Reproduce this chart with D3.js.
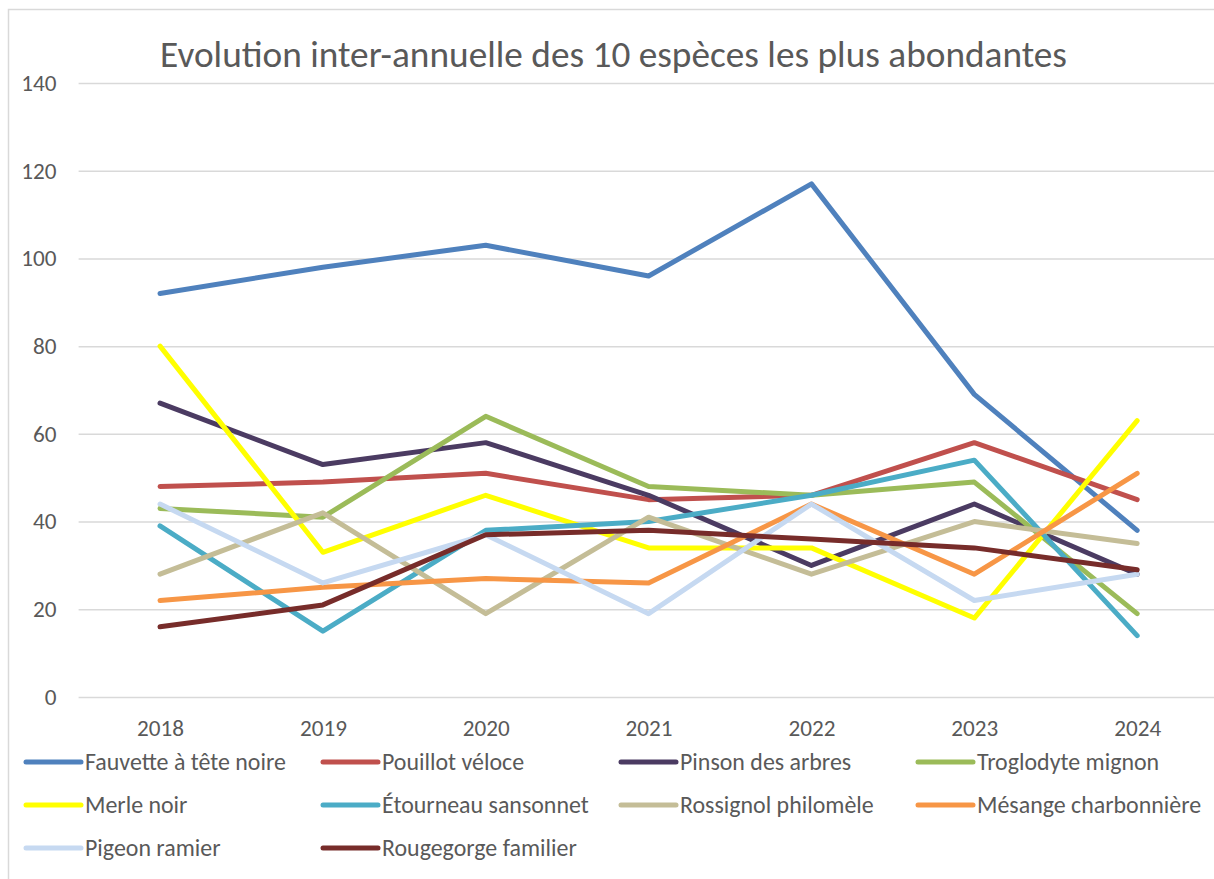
<!DOCTYPE html>
<html>
<head>
<meta charset="utf-8">
<script src="https://cdn.jsdelivr.net/npm/d3@7"></script>
<style>
  body { margin: 0; background: #fff; overflow: hidden; }
  svg text { font-family: Calibri, Carlito, Lato, "Open Sans", sans-serif; fill: #595959; }
</style>
</head>
<body>
<div id="chart"></div>
<script>
// Data
const years = ["2018", "2019", "2020", "2021", "2022", "2023", "2024"];
const species = [
    "Fauvette à tête noire", "Pouillot véloce", "Pinson des arbres", "Troglodyte mignon",
    "Merle noir", "Étourneau sansonnet", "Rossignol philomèle", "Mésange charbonnière",
    "Pigeon ramier", "Rougegorge familier"
];
const fauvette   = [92, 98, 103, 96, 117, 69, 38];
const pouillot   = [48, 49, 51, 45, 46, 58, 45];
const pinson     = [67, 53, 58, 46, 30, 44, 28];
const troglodyte = [43, 41, 64, 48, 46, 49, 19];
const merle      = [80, 33, 46, 34, 34, 18, 63];
const etourneau  = [39, 15, 38, 40, 46, 54, 14];
const rossignol  = [28, 42, 19, 41, 28, 40, 35];
const mesange    = [22, 25, 27, 26, 44, 28, 51];
const pigeon     = [44, 26, 37, 19, 44, 22, 28];
const rougegorge = [16, 21, 37, 38, 36, 34, 29];
const yTicks = [0, 20, 40, 60, 80, 100, 120, 140];
const colors = ["#4F81BD", "#C0504D", "#4B3B62", "#9BBB59", "#FFFF00",
                "#4BACC6", "#C4BD97", "#F79646", "#C6D9F1", "#772C2A"];

const seriesValues = [fauvette, pouillot, pinson, troglodyte, merle,
                      etourneau, rossignol, mesange, pigeon, rougegorge];
const series = species.map((name, i) => ({
    name: name,
    color: colors[i],
    values: years.map((y, j) => ({ year: y, value: seriesValues[i][j] }))
}));

const W = 1214, H = 879;
const svg = d3.select("#chart").append("svg")
    .attr("width", W)
    .attr("height", H);

// scale a font so one sample text gets the width seen in the reference
function fitSize(sample, base, target) {
    const t = svg.append("text").style("font-size", base + "px").text(sample);
    const w = t.node().getComputedTextLength();
    t.remove();
    return base * target / w;
}
const titleSize = fitSize("Evolution inter-annuelle des 10 espèces les plus abondantes", 30, 907);
const tickSize = fitSize("2018", 20, 47);
const legendSize = fitSize("Fauvette à tête noire", 20, 201);

// chart frame (cut on the right and bottom like the reference)
svg.append("rect")
    .attr("x", 8.5).attr("y", 9.5)
    .attr("width", 1260).attr("height", 900)
    .attr("fill", "none")
    .attr("stroke", "#D9D9D9")
    .attr("stroke-width", 1.5);

const x = d3.scalePoint()
    .domain(years)
    .range([78.6, 1218.6])
    .padding(0.5);

const y = d3.scaleLinear()
    .domain([0, 140])
    .range([697, 83]);

// title
svg.append("text")
    .attr("x", 613.5)
    .attr("y", 67)
    .attr("text-anchor", "middle")
    .style("font-size", titleSize + "px")
    .text("Evolution inter-annuelle des 10 espèces les plus abondantes");

// y gridlines + labels
const yAxis = svg.append("g")
    .attr("class", "y-axis")
    .attr("transform", "translate(78.6,0)")
    .call(d3.axisLeft(y).tickValues(yTicks).tickSize(-1140).tickPadding(22));
yAxis.select(".domain").remove();
yAxis.selectAll(".tick line")
    .attr("stroke", "#D9D9D9")
    .attr("stroke-width", 1.5);
yAxis.selectAll(".tick text")
    .style("font-size", tickSize + "px")
    .attr("fill", "#595959");

// x labels
const xAxis = svg.append("g")
    .attr("class", "x-axis")
    .attr("transform", "translate(0,697)")
    .call(d3.axisBottom(x).tickSize(0));
xAxis.select(".domain").remove();
xAxis.selectAll(".tick text")
    .attr("y", 38.5)
    .attr("dy", 0)
    .style("font-size", tickSize + "px")
    .attr("fill", "#595959");

// lines
const line = d3.line()
    .x(d => x(d.year))
    .y(d => y(d.value));

svg.selectAll(".line")
    .data(series)
    .enter()
    .append("path")
    .attr("class", "line")
    .attr("fill", "none")
    .attr("stroke", d => d.color)
    .attr("stroke-width", 5)
    .attr("stroke-linecap", "round")
    .attr("stroke-linejoin", "round")
    .attr("d", d => line(d.values));

// legend, 4 columns
const colX = [26, 323, 621, 918];
const rowY = [762, 805, 848];
const legend = svg.selectAll(".legend")
    .data(series)
    .enter()
    .append("g")
    .attr("class", "legend")
    .attr("transform", (d, i) => `translate(${colX[i % 4]},${rowY[Math.floor(i / 4)]})`);

legend.append("line")
    .attr("x1", 0).attr("x2", 55)
    .attr("y1", 0).attr("y2", 0)
    .attr("stroke", d => d.color)
    .attr("stroke-width", 5)
    .attr("stroke-linecap", "round");

legend.append("text")
    .attr("x", 59)
    .attr("y", 0)
    .attr("dy", "0.35em")
    .style("font-size", legendSize + "px")
    .text(d => d.name);
</script>
</body>
</html>
